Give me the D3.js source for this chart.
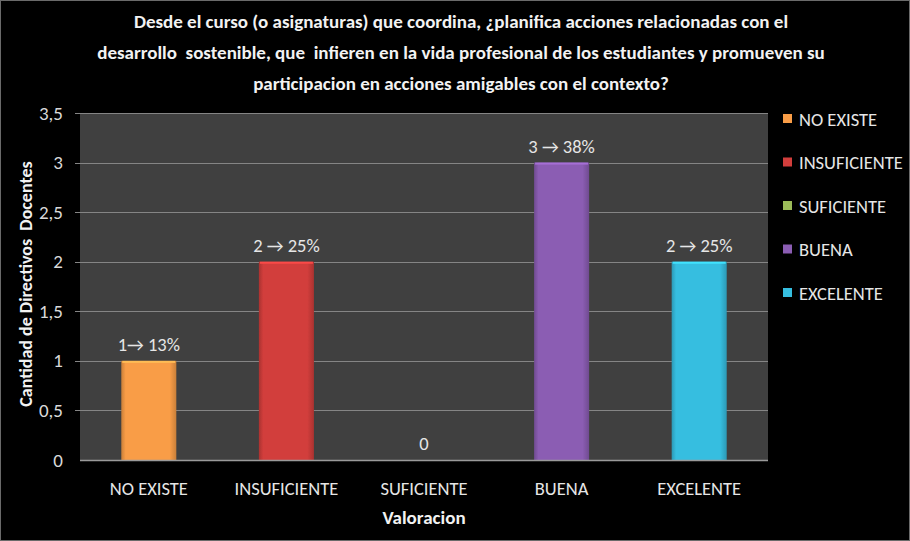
<!DOCTYPE html>
<html>
<head>
<meta charset="utf-8">
<script src="https://cdn.jsdelivr.net/npm/d3@7"></script>
<style>
  html, body { margin: 0; padding: 0; background: #000; }
  svg { display: block; }
  text { font-family: Carlito, Lato, "Liberation Sans", sans-serif; white-space: pre; }
</style>
</head>
<body>
<svg id="chart" width="910" height="541"></svg>
<script>
// Survey answers: number of teaching directors per rating
const categories = ["NO EXISTE", "INSUFICIENTE", "SUFICIENTE", "BUENA", "EXCELENTE"];
const counts = [1, 2, 0, 3, 2];
const valueLabels = ["1\u2192 13%", "2 \u2192 25%", "0", "3 \u2192 38%", "2 \u2192 25%"];
const barColors = ["#F99D47", "#D23E3C", "#9BBB59", "#8B5DB3", "#36BEE0"];
const yTicks = [0, 0.5, 1, 1.5, 2, 2.5, 3, 3.5];
const titleLines = [
  "Desde el curso (o asignaturas) que coordina, \u00bfplanifica acciones relacionadas con el",
  "desarrollo  sostenible, que  infieren en la vida profesional de los estudiantes y promueven su",
  "participacion en acciones amigables con el contexto?"
];
const yTitle = "Cantidad de Directivos  Docentes";
const xTitle = "Valoracion";

const W = 910, H = 541;
const plot = { left: 80, right: 768, top: 113, bottom: 460 };

const svg = d3.select("#chart");
svg.append("rect").attr("x", 0.5).attr("y", 0.5).attr("width", W - 1).attr("height", H - 1)
  .attr("fill", "#000").attr("stroke", "#6a6a6a").attr("stroke-width", 1);

const defs = svg.append("defs");
barColors.forEach((c, i) => {
  const g = defs.append("linearGradient").attr("id", "bar" + i)
    .attr("x1", "0").attr("x2", "1").attr("y1", "0").attr("y2", "0");
  const dark = d3.color(c).darker(0.6);
  g.append("stop").attr("offset", "0").attr("stop-color", dark);
  g.append("stop").attr("offset", "0.08").attr("stop-color", c);
  g.append("stop").attr("offset", "0.88").attr("stop-color", c);
  g.append("stop").attr("offset", "1").attr("stop-color", dark);
});

const x = d3.scaleBand().domain(categories).range([plot.left, plot.right])
  .paddingInner(0.6).paddingOuter(0.3);
const y = d3.scaleLinear().domain([0, 3.5]).range([plot.bottom, plot.top]);

// plot background
svg.append("rect").attr("x", plot.left).attr("y", plot.top)
  .attr("width", plot.right - plot.left).attr("height", plot.bottom - plot.top)
  .attr("fill", "#404040");

// gridlines
svg.append("g").selectAll("line").data(yTicks.filter(d => d > 0)).join("line")
  .attr("x1", plot.left - 5).attr("x2", plot.right)
  .attr("y1", d => Math.round(y(d)) + 0.5).attr("y2", d => Math.round(y(d)) + 0.5)
  .attr("stroke", "#858585").attr("stroke-width", 1);

// y axis labels
const yAxis = d3.axisLeft(y).tickValues(yTicks).tickSize(0).tickPadding(17)
  .tickFormat(d => String(d).replace(".", ","));
const ya = svg.append("g").attr("transform", `translate(${plot.left},0)`).call(yAxis);
ya.select(".domain").remove();
ya.selectAll("text").attr("fill", "#d9d9d9").attr("font-size", 19)
  .attr("font-family", "Carlito, Lato, sans-serif");

// bars
svg.append("g").selectAll("rect").data(categories).join("rect")
  .attr("x", d => x(d)).attr("width", x.bandwidth())
  .attr("y", (d, i) => y(counts[i]))
  .attr("height", (d, i) => y(0) - y(counts[i]))
  .attr("fill", (d, i) => `url(#bar${i})`);
// light top edge on each bar
svg.append("g").selectAll("rect").data(categories.filter((d, i) => counts[i] > 0)).join("rect")
  .attr("x", d => x(d) + 1).attr("width", x.bandwidth() - 2)
  .attr("y", d => y(counts[categories.indexOf(d)])).attr("height", 2)
  .attr("fill", d => d3.color(barColors[categories.indexOf(d)]).brighter(0.5));

// bottom axis line
svg.append("line").attr("x1", plot.left).attr("x2", plot.right)
  .attr("y1", plot.bottom + 0.5).attr("y2", plot.bottom + 0.5)
  .attr("stroke", "#9a9a9a").attr("stroke-width", 1.5);

// value labels
svg.append("g").selectAll("text").data(categories).join("text")
  .attr("x", d => x(d) + x.bandwidth() / 2)
  .attr("y", (d, i) => y(counts[i]) - 10)
  .attr("text-anchor", "middle").attr("fill", "#e6e6e6").attr("font-size", 18.5)
  .text((d, i) => valueLabels[i]);

// x axis labels
const xAxis = d3.axisBottom(x).tickSize(0).tickPadding(22);
const xa = svg.append("g").attr("transform", `translate(0,${plot.bottom})`).call(xAxis);
xa.select(".domain").remove();
xa.selectAll("text").attr("fill", "#e6e6e6").attr("font-size", 18.5)
  .attr("font-family", "Carlito, Lato, sans-serif");

// axis titles
svg.append("text").attr("x", (plot.left + plot.right) / 2).attr("y", 524)
  .attr("text-anchor", "middle").attr("fill", "#f2f2f2").attr("font-size", 19)
  .attr("font-weight", "bold").text(xTitle);
svg.append("text").attr("transform", "translate(32,284) rotate(-90)")
  .attr("text-anchor", "middle").attr("fill", "#f2f2f2").attr("font-size", 18)
  .attr("font-weight", "bold").text(yTitle);

// title
svg.append("g").selectAll("text").data(titleLines).join("text")
  .attr("x", 461).attr("y", (d, i) => 28 + i * 31)
  .attr("text-anchor", "middle").attr("fill", "#f2f2f2").attr("font-size", 19)
  .attr("font-weight", "bold").text(d => d);

// legend
const leg = svg.append("g").selectAll("g").data(categories).join("g")
  .attr("transform", (d, i) => `translate(783,${119 + i * 43.5})`);
leg.append("rect").attr("x", 0).attr("y", -5).attr("width", 9).attr("height", 9)
  .attr("fill", (d, i) => barColors[i]);
leg.append("text").attr("x", 16).attr("y", 6.5).attr("fill", "#e6e6e6")
  .attr("font-size", 18.5).text(d => d);
</script>
</body>
</html>
